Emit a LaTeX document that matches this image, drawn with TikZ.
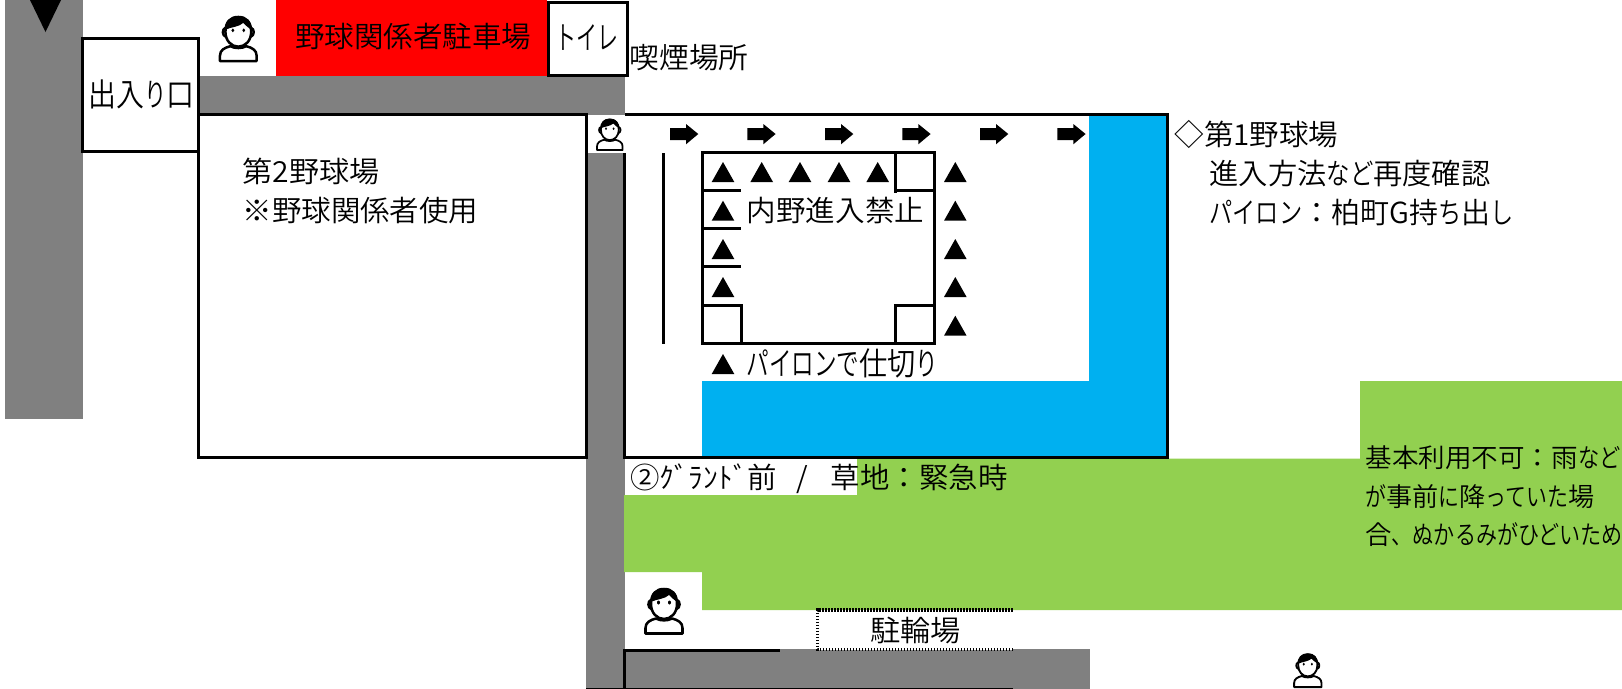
\documentclass[tikz,border=0pt]{standalone}
\usepackage{fontspec}
\usepackage{graphicx}
\setmainfont[UprightFont={* DemiLight},BoldFont={* Bold}]{Noto Sans CJK JP}
\newlength\px \setlength\px{0.75pt}
\definecolor{roadgray}{HTML}{808080}
\definecolor{parkred}{HTML}{FF0000}
\definecolor{fieldblue}{HTML}{00B0F0}
\definecolor{grassgreen}{HTML}{92D050}
\newcommand\fitw[2]{\hspace*{-1.5\px}\resizebox{\dimexpr#1\px+3\px\relax}{\height}{#2}}
\newcommand\kn[1]{\scalebox{.8}[1]{#1}}
\newcommand\tri[2]{\fill (#1-11.3,#2+20) -- (#1,#2) -- (#1+11.3,#2+20) -- cycle;}
\newcommand\arrowr[1]{\fill (#1,128) -- (#1+16,128) -- (#1+16,124) -- (#1+28.3,134) -- (#1+16,144.3) -- (#1+16,140) -- (#1,140) -- cycle;}
\newcommand\personicon[3]{%
  \begin{scope}[shift={(#1,#2)},scale=#3,line width={#3*1.9pt},line join=round]
    \draw[fill=white] (1.5,46.5) -- (1.5,41) .. controls (1.5,35.5) and (6,33) .. (12,31.5) .. controls (16,34) and (24,34) .. (28,31.5) .. controls (34,33) and (38.5,35.5) .. (38.5,41) -- (38.5,46.5) -- cycle;
    \draw[fill=white] (7,17) .. controls (7,7) and (12,2) .. (20,2) .. controls (28,2) and (33,7) .. (33,17) .. controls (33,26) and (27,32) .. (20,32) .. controls (13,32) and (7,26) .. (7,17) -- cycle;
    \draw (7,13) .. controls (3.5,14) and (3.5,21) .. (7.5,22);
    \draw (33,13) .. controls (36.5,14) and (36.5,21) .. (32.5,22);
    \fill (6.5,15) .. controls (6.5,6) and (12,1) .. (20,1) .. controls (28,1) and (33.5,6) .. (33.5,15) .. controls (30,13) and (27,10) .. (25,8) .. controls (21,12) and (13,12) .. (6.5,15) -- cycle;
    \fill (14.5,15.5) ellipse [x radius=1.5,y radius=2];
    \fill (25.5,15.5) ellipse [x radius=1.5,y radius=2];
  \end{scope}}
\tikzset{
  txt/.style={anchor=base west,inner sep=0pt,outer sep=0pt,font=\fontsize{21.75pt}{26pt}\selectfont,text=black},
  txtb/.style={txt,font=\fontsize{24pt}{28pt}\selectfont},
  txts/.style={txt,font=\fontsize{19.5pt}{24pt}\selectfont},
  wall/.style={draw=black,line width=2.25pt}
}
\begin{document}
\begin{tikzpicture}[x=0.75pt,y=-0.75pt]
\useasboundingbox (0,0) rectangle (1622,689);
% roads
\fill[roadgray] (5,0) rectangle (83,419);
\fill[roadgray] (198,76) rectangle (625,115);
\fill[roadgray] (586,153) rectangle (625,689);
\fill[roadgray] (626,649) rectangle (1089.6,689);
\fill (30,0) -- (61,0) -- (45.5,32) -- cycle;
% parking
\fill[parkred] (276,0) rectangle (547,76);
\draw[wall,fill=white] (548.5,2.5) rectangle (627,75.5);
% entrance
\draw[wall,fill=white] (82.5,38.5) rectangle (198.5,151.5);
% field 2
\draw[wall,fill=white] (198.5,114.7) rectangle (586.5,457.3);
% field 1 colour
\fill[fieldblue] (1089,115) -- (1167,115) -- (1167,457) -- (702,457) -- (702,381) -- (1089,381) -- cycle;
% grass
\fill[grassgreen] (1360,381) -- (1622,381) -- (1622,610) -- (702,610) -- (702,572) -- (624,572) -- (624,495) -- (857,495) -- (857,458.5) -- (1360,458.5) -- cycle;
% field 1 lines
\draw[wall] (624.5,153) -- (624.5,457.3) -- (1167,457.3) -- (1167,114.7) -- (625,114.7);
\draw[wall] (663.3,153) -- (663.3,344);
% infield
\draw[wall] (702.3,152.3) rectangle (934.7,343.7);
\draw[wall] (895.7,152.3) -- (895.7,192.7);
\draw[wall] (895.7,190.3) -- (934.7,190.3);
\draw[wall] (702,190.3) -- (741,190.3);
\draw[wall] (702,228.3) -- (741,228.3);
\draw[wall] (702,266) -- (741,266);
\draw[wall] (702,305) -- (741.7,305) -- (741.7,343.7);
\draw[wall] (934.7,305) -- (895.7,305) -- (895.7,343.7);
% pylons
\tri{723}{162}\tri{761.7}{162}\tri{800}{162}\tri{839}{162}\tri{877.7}{162}
\tri{723}{200.7}\tri{723}{239}\tri{723}{277}
\tri{955.3}{162}\tri{955.3}{200.7}\tri{955.3}{239}\tri{955.3}{277}\tri{955.3}{315.7}
\tri{723}{354}
% arrows
\arrowr{670}\arrowr{747.3}\arrowr{825}\arrowr{902.3}\arrowr{980}\arrowr{1057.3}
% bottom
\draw[wall] (624.5,689) -- (624.5,650) -- (780,650);
\draw[black,line width=2.25pt] (586,689) -- (1013,689);
\fill[white] (817.6,610) rectangle (1012.7,649.7);
\draw[line width=2.4pt,dash pattern=on 1.1pt off 1.15pt] (1012.7,610) -- (817.6,610) -- (817.6,649.7) -- (1012.7,649.7);
% people
\personicon{218.5}{15}{0.99}
\personicon{596}{118}{0.69}
\personicon{644}{587}{1}
\personicon{1293}{652.7}{0.74}
% texts
\node[txt] (parking) at (296.6,47) {\fitw{233.4}{野球関係者駐車場}};
\node[txtb] (toilet) at (556.5,49) {\fitw{60}{\kn{トイレ}}};
\node[txt] (smoke) at (631,68) {\fitw{116}{喫煙場所}};
\node[txtb] (gate) at (90,106) {\fitw{103}{出入\kn{り}口}};
\node[txt] (f2a) at (244,182) {\fitw{134}{第2野球場}};
\node[txt] (f2b) at (244,221) {\fitw{233}{※野球関係者使用}};
\node[txt] (f1a) at (1176,145) {\fitw{161}{◇第1野球場}};
\node[txt] (f1b) at (1211,184.2) {\fitw{278}{進入方法\kn{など}再度確認}};
\node[txt] (f1c) at (1211,223.5) {\fitw{301}{\kn{パイロン}：柏町G持\kn{ち}出\kn{し}}};
\node[txt] (infield) at (748.3,221.7) {\fitw{174.4}{内野進入禁止}};
\node[txtb] (pylon) at (748,375) {\fitw{189}{\kn{パイロンで}仕切\kn{り}}};
\node[txt] (front) at (631.6,488.7) {\fitw{374.4}{②ｸﾞﾗﾝﾄﾞ前\hspace{14pt}/\hspace{17pt}草地：緊急時}};
\node[txt] (bike) at (871.6,641) {\fitw{87.8}{駐輪場}};
\node[txts] (g1) at (1367,467.5) {\fitw{252}{基本利用不可：雨\kn{など}}};
\node[txts] (g2) at (1367,506) {\fitw{226}{\kn{が}事前\kn{に}降\kn{っていた}場}};
\node[txts] (g3) at (1367,544) {\fitw{254.5}{合\kn{、ぬかるみがひどいため}}};
\end{tikzpicture}
\end{document}
